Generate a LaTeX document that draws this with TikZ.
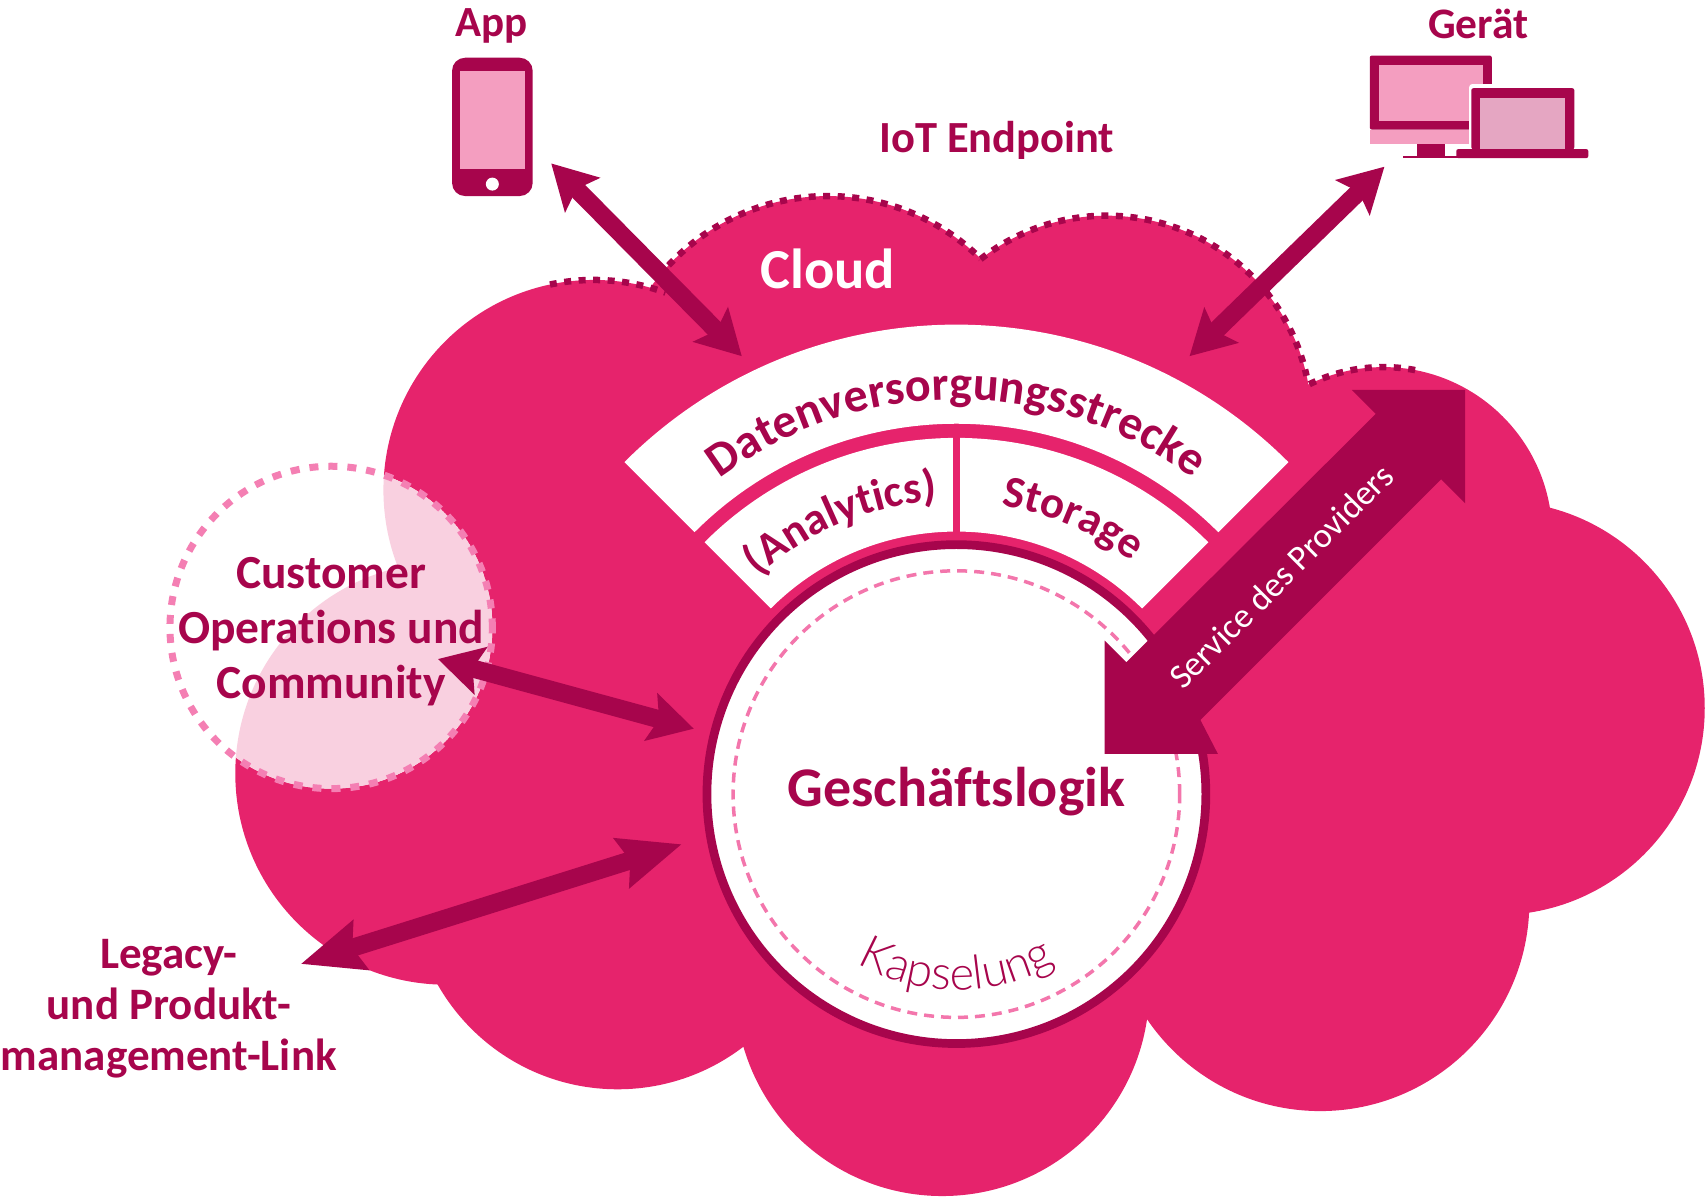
\documentclass[tikz,border=0pt]{standalone}
\usepackage{fontspec}
\setmainfont[Ligatures={NoCommon}]{Carlito}
\newfontfamily\thinfont[UprightFont={* Light}]{Lato}
\usetikzlibrary{arrows.meta,decorations.text}
\definecolor{cloudp}{RGB}{230,35,108}
\definecolor{darkp}{RGB}{167,5,76}
\definecolor{palep}{RGB}{249,208,224}
\definecolor{softp}{RGB}{244,127,179}
\definecolor{screenp}{RGB}{244,158,192}
\definecolor{lapp}{RGB}{229,166,194}
\newcommand{\cloudshape}[1]{%
  \fill[#1] (545,450) circle (193) (760,380) circle (200) (1016,386) circle (188)
    (1270,492) circle (155) (1375,650) circle (190) (1212,828) circle (192)
    (865,908) circle (190) (567,810) circle (190) (410,710) circle (194);
  \fill[#1] (560,300) -- (1150,330) -- (1400,500) -- (1350,800) -- (1050,900)
    -- (600,950) -- (300,800) -- (420,500) -- cycle;}
\newcommand{\bandfont}{\bfseries\fontsize{48}{48}\selectfont}
\newcommand{\subbandfont}{\bfseries\fontsize{45}{45}\selectfont}
\begin{document}
\begin{tikzpicture}[x=1.08929pt,y=-1.08929pt,
  lbl/.style={text=darkp, font=\bfseries\fontsize{47.5}{55}\selectfont, align=center, inner sep=0pt},
  cloudedge/.style={darkp, line width=6.5pt, dash pattern=on 7pt off 7.5pt},
  link/.style={darkp, line width=18pt, {Stealth[length=44pt,width=48pt,inset=8pt]}-{Stealth[length=44pt,width=48pt,inset=8pt]}},
  device/.style={fill=darkp, inner sep=0pt, rounded corners=2pt}]
  \useasboundingbox (0,0) rectangle (1568,1101.6);
  % cloud
  \cloudshape{cloudp}
  \draw[cloudedge] (258:193) ++(545,450) arc[start angle=258,end angle=290,radius=193];
  \draw[cloudedge] (223:200) ++(760,380) arc[start angle=223,end angle=314.6,radius=200];
  \draw[cloudedge] (232:188) ++(1016,386) arc[start angle=232,end angle=347.4,radius=188];
  \draw[cloudedge] (244:155) ++(1270,492) arc[start angle=244,end angle=281,radius=155];
  \node[text=white, font=\bfseries\fontsize{56.5}{56.5}\selectfont, inner sep=0pt] (cloudlabel) at (760,247) {Cloud};
  % customer circle
  \begin{scope}
    \clip (304,576) circle (148);
    \fill[white] (304,576) circle (148);
    \cloudshape{palep}
  \end{scope}
  \node[circle, draw=softp, line width=7pt, dash pattern=on 9pt off 10pt, minimum size=322.4pt, inner sep=0pt] (customer) at (304,576) {};
  \node[lbl] (customerlabel) at (304,580) {Customer\\Operations und\\Community};
  % bands
  \begin{scope}[shift={(878,729)}]
    \fill[white] (225:431) arc[start angle=225,end angle=315,radius=431] -- (315:340) arc[start angle=315,end angle=225,radius=340] -- cycle;
    \fill[white] (225:327) arc[start angle=225,end angle=315,radius=327] -- (315:241) arc[start angle=315,end angle=225,radius=241] -- cycle;
    \fill[cloudp] (-3.5,-330) rectangle (3.5,-238);
    \path[decorate, decoration={text along path, text align=center, text={|\bandfont\color{darkp}|Datenversorgungsstrecke}}]
      (225:362) arc[start angle=225,end angle=315,radius=362];
    \path[decorate, decoration={text along path, text align=center, text={|\subbandfont\color{darkp}|(Analytics)}}]
      (225:270) arc[start angle=225,end angle=269,radius=270];
    \path[decorate, decoration={text along path, text align=center, text={|\subbandfont\color{darkp}|Storage}}]
      (271:268) arc[start angle=271,end angle=315,radius=268];
  \end{scope}
  % logic circle
  \node[circle, draw=darkp, fill=white, line width=8.7pt, minimum size=498.9pt, inner sep=0pt] (logic) at (878,729) {};
  \node[circle, draw=softp!90!cloudp, line width=3.5pt, dash pattern=on 10pt off 7pt, minimum size=446.6pt, inner sep=0pt] (capsule) at (878,729) {};
  \begin{scope}[shift={(878,729)}]
    \path[decorate, decoration={text along path, text align=center, text={|\thinfont\fontsize{47}{47}\selectfont\color{darkp}|Kapselung}}]
      (130:180) arc[start angle=130,end angle=50,radius=180];
  \end{scope}
  \node[lbl, font=\bfseries\fontsize{56}{56}\selectfont] (logiclabel) at (878,727) {Geschäftslogik};
  % devices
  \node[device, rounded corners=13pt, minimum width=80.6pt, minimum height=138.3pt] (phone) at (452,116.5) {};
  \node[fill=screenp, inner sep=0pt, minimum width=65.4pt, minimum height=98pt] (phonescreen) at (452,110) {};
  \node[circle, fill=white, inner sep=0pt, minimum size=13pt] (phonebutton) at (452,169) {};
  \node[lbl, font=\bfseries\fontsize{43}{43}\selectfont] (applabel) at (451,24) {App};
  \node[device, minimum width=122pt, minimum height=74pt] (monitor) at (1313.5,85) {};
  \node[fill=screenp, inner sep=0pt, minimum width=103.5pt, minimum height=55.5pt] (monitorscreen) at (1313.5,85.5) {};
  \node[fill=screenp, inner sep=0pt, minimum width=122pt, minimum height=14pt] (monitorchin) at (1313.5,125.5) {};
  \node[fill=darkp, inner sep=0pt, minimum width=28pt, minimum height=13pt] (monitorstand) at (1314,138) {};
  \node[fill=darkp, inner sep=0pt, minimum width=55pt, minimum height=2pt] (monitorfoot) at (1313,144) {};
  \node[fill=white, inner sep=0pt, rounded corners=3pt, minimum width=116pt, minimum height=78pt] (lapback) at (1402,113) {};
  \node[device, minimum width=103pt, minimum height=61pt] (laptop) at (1398,109) {};
  \node[fill=lapp, inner sep=0pt, minimum width=84.7pt, minimum height=51pt] (lapscreen) at (1397.7,113.5) {};
  \node[device, minimum width=132pt, minimum height=9pt] (lapbase) at (1397.5,141) {};
  \node[lbl, font=\bfseries\fontsize{43.5}{43.5}\selectfont] (devlabel) at (1357,22) {Gerät};
  \node[lbl, font=\bfseries\fontsize{44.5}{44.5}\selectfont] (iotlabel) at (915,129) {IoT Endpoint};
  % links
  \coordinate (append) at (506,150);
  \coordinate (appband) at (681,327);
  \coordinate (devend) at (1271,153);
  \coordinate (devband) at (1092,327);
  \coordinate (custend) at (402,605);
  \coordinate (custlogic) at (637,669);
  \coordinate (legacyend) at (276,885);
  \coordinate (legacylogic) at (626,775);
  \coordinate (provtop) at (1345,358);
  \coordinate (provlogic) at (1014,692);
  \draw[link] (append) -- (appband);
  \draw[link] (devend) -- (devband);
  \draw[link] (custend) -- (custlogic);
  \draw[link, {Stealth[length=62pt,width=50pt,inset=8pt]}-{Stealth[length=62pt,width=50pt,inset=8pt]}] (legacyend) -- (legacylogic);
  \fill[darkp] (provlogic) -- (1014,588) -- (1034,608) -- (1263,380) -- (1241,358) -- (provtop)
    -- (1345,462) -- (1323,440) -- (1102,661) -- (1118,692) -- cycle;
  \node[text=white, rotate=45, font=\fontsize{35}{35}\selectfont, inner sep=0pt] (servicelabel) at (1176,529) {Service des Providers};
  \node[lbl, font=\bfseries\fontsize{45}{51}\selectfont] (legacylabel) at (155,926) {Legacy-\\und Produkt-\\management-Link};
\end{tikzpicture}
\end{document}
